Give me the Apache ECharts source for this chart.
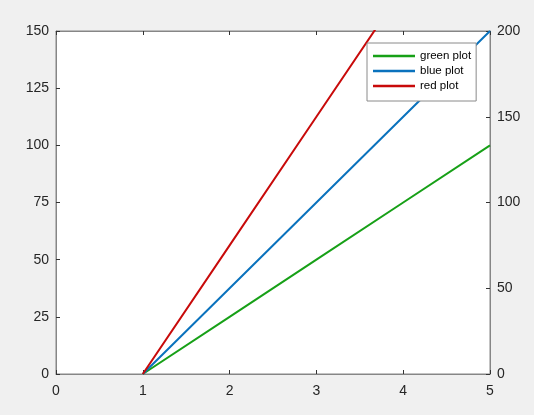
<!DOCTYPE html>
<html><head><meta charset="utf-8">
<script src="https://cdn.jsdelivr.net/npm/echarts@6/dist/echarts.min.js"></script>
<style>html,body{margin:0;padding:0;background:#f0f0f0}#c{width:534px;height:415px}</style>
</head><body><div id="c"></div>
<script>
const xValues = [1, 2, 3, 4, 5];
const greenValues = [0, 25, 50, 75, 100];
const blueValues = [0, 37.5, 75, 112.5, 150];
const redValues = [0, 75, 150, 225, 300];
const seriesNames = ['green plot', 'blue plot', 'red plot'];

const chart = echarts.init(document.getElementById('c'));
const axisCol = '#868686';
const tickCol = '#333333';
const txtCol = '#262626';
const font = 'Liberation Sans';
function pairs(v){ return xValues.map((x,i)=>[x,v[i]]); }
const tick = {show: true, inside: true, length: 4, lineStyle: {color: tickCol}};
const line = {show: true, onZero: false, lineStyle: {color: axisCol}};
chart.setOption({
  backgroundColor: '#f0f0f0',
  animation: false,
  grid: {left: 56, top: 31, right: 44, bottom: 41, show: true, backgroundColor: '#fff', borderColor: axisCol, borderWidth: 1},
  legend: {
    orient: 'vertical', left: 367, top: 43,
    backgroundColor: '#fff', borderColor: '#8a8a8a', borderWidth: 1,
    padding: [7, 5, 9, 6], itemWidth: 42, itemHeight: 14, itemGap: 3,
    textStyle: {fontFamily: font, fontSize: 11.5, color: '#000'},
    data: seriesNames.map(n => ({name: n, icon: 'path://M0,6 L42,6 L42,8.5 L0,8.5 Z'}))
  },
  xAxis: [{
    type: 'value', min: 0, max: 5, interval: 1, position: 'bottom',
    axisLine: line, axisTick: tick,
    axisLabel: {fontFamily: font, fontSize: 14, color: txtCol, margin: 10},
    splitLine: {show: false}
  }, {
    type: 'value', min: 0, max: 5, interval: 1, position: 'top',
    axisLine: line, axisTick: tick,
    axisLabel: {show: false}, splitLine: {show: false}
  }],
  yAxis: [{
    type: 'value', min: 0, max: 150, interval: 25, position: 'left',
    axisLine: line, axisTick: tick,
    axisLabel: {fontFamily: font, fontSize: 14, color: txtCol, margin: 7},
    splitLine: {show: false}
  }, {
    type: 'value', min: 0, max: 200, interval: 50, position: 'right',
    axisLine: line, axisTick: tick,
    axisLabel: {fontFamily: font, fontSize: 14, color: txtCol, margin: 7},
    splitLine: {show: false}
  }],
  series: [
    {name: seriesNames[0], type: 'line', yAxisIndex: 0, data: pairs(greenValues), symbol: 'none', clip: true, lineStyle: {width: 2, color: '#17a017'}, itemStyle: {color: '#17a017'}},
    {name: seriesNames[1], type: 'line', yAxisIndex: 0, data: pairs(blueValues), symbol: 'none', clip: true, lineStyle: {width: 2, color: '#0a72bd'}, itemStyle: {color: '#0a72bd'}},
    {name: seriesNames[2], type: 'line', yAxisIndex: 1, data: pairs(redValues), symbol: 'none', clip: true, lineStyle: {width: 2, color: '#c80a0a'}, itemStyle: {color: '#c80a0a'}}
  ]
});
</script></body></html>
